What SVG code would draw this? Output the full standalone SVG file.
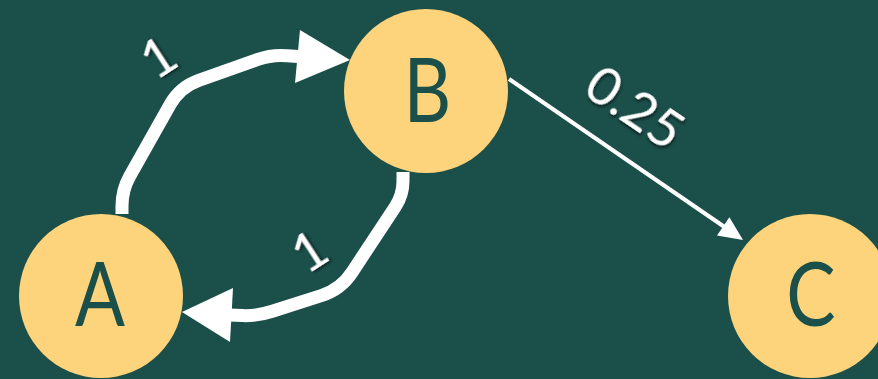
<svg xmlns="http://www.w3.org/2000/svg" width="878" height="379" viewBox="0 0 878 379">
  <style>
    .node circle { fill: #fdd47b; }
    .node text { font-family: Lato, "Open Sans", sans-serif; font-size: 89px; fill: #1b4f4a; text-anchor: middle; }
    .edge { fill: none; stroke: #ffffff; stroke-linejoin: round; }
    .thick { stroke-width: 13; }
    .thin { stroke-width: 4; }
    .head { fill: #ffffff; }
    .lbl { font-family: Lato, "Open Sans", sans-serif; font-size: 53px; fill: #ffffff; text-anchor: middle; filter: url(#shadow); }
  </style>
  <defs>
    <filter id="shadow" x="-30%" y="-30%" width="160%" height="160%">
      <feDropShadow dx="1.5" dy="1.5" stdDeviation="1.5" flood-color="#000000" flood-opacity="0.7"/>
    </filter>
  </defs>
  <rect x="0" y="0" width="878" height="379" fill="#1b4f4a"/>
  <g id="connectors">
    <g id="edge-A-B">
      <path class="edge thick" d="M122,214 L122,206 Q122,190 129.8,176.1 L170.2,104.4 Q180,87 198.8,80.3 L257.9,59.4 Q272,54.4 287,55.7 L302,56.8"/>
      <polygon class="head" points="300,30 350,60 295,83"/>
      <text class="lbl" transform="translate(158,57) rotate(-33)" y="19">1</text>
    </g>
    <g id="edge-B-A">
      <path class="edge thick" d="M403,172 L403,181 Q403,195 395.3,206.7 L352,272.3 Q341,289 322,295.3 L272.3,311.3 Q258,316 243,315.6 L228,315"/>
      <polygon class="head" points="233,288 182,312 230,342"/>
      <text class="lbl" transform="translate(309,251) rotate(-33)" y="19">1</text>
    </g>
    <g id="edge-B-C">
      <path class="edge thin" d="M509,79 L726,228"/>
      <polygon class="head" points="743,240 717,235.5 729.4,217.3"/>
      <text class="lbl" transform="translate(635,107) rotate(34)" y="19">0.25</text>
    </g>
  </g>
  <g id="node-A" class="node">
    <circle cx="101" cy="296" r="82"/>
    <text transform="translate(100,293.5) scale(0.83,1)" y="32">A</text>
  </g>
  <g id="node-B" class="node">
    <circle cx="426" cy="91" r="82"/>
    <text transform="translate(427.5,89.5) scale(0.83,1)" y="32">B</text>
  </g>
  <g id="node-C" class="node">
    <circle cx="810" cy="296" r="82"/>
    <text transform="translate(811,294) scale(0.83,1)" y="32">C</text>
  </g>
</svg>
